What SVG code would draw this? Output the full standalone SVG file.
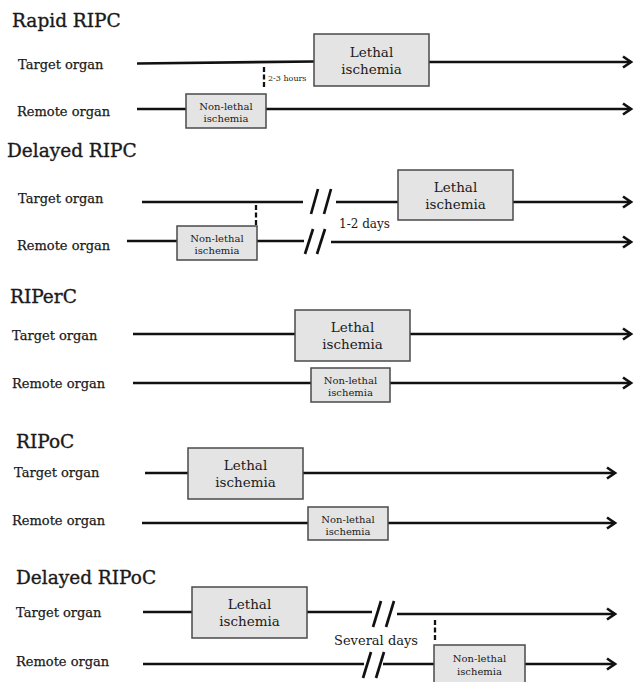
<svg xmlns="http://www.w3.org/2000/svg" width="635" height="682" viewBox="0 0 635 682">
<style>
text{font-family:"DejaVu Serif","Liberation Serif",serif;fill:#1a1a1a}
.title{font-size:18.5px;stroke:#1a1a1a;stroke-width:0.35}
.org{font-size:13px;stroke:#1a1a1a;stroke-width:0.25}
.lt{font-size:13.5px;text-anchor:middle}
.nl{font-size:10px;text-anchor:middle}
.sm{font-size:8px}
.mid{font-size:12px}
.box{fill:#e4e4e4;stroke:#4a4a4a;stroke-width:1.5}
.ln{stroke:#111;stroke-width:2.7;fill:none}
.arr{marker-end:url(#ah)}
.sl{stroke:#111;stroke-width:2.7;fill:none}
.dash{stroke:#111;stroke-width:2.3;stroke-dasharray:5,2.5;fill:none}
</style>
<defs>
<marker id="ah" markerUnits="userSpaceOnUse" markerWidth="14" markerHeight="16" refX="11" refY="8" orient="auto">
<path d="M3,2.5 L11,8 L3,13.5" fill="none" stroke="#111" stroke-width="2.7"/>
</marker>
</defs>
<rect width="635" height="682" fill="#fff"/>

<!-- Titles and row labels -->
<text class="title" x="12" y="27">Rapid RIPC</text>
<text class="org" x="18" y="69">Target organ</text>
<text class="org" x="17" y="116">Remote organ</text>

<text class="title" x="7" y="157">Delayed RIPC</text>
<text class="org" x="18" y="203">Target organ</text>
<text class="org" x="17" y="250">Remote organ</text>

<text class="title" x="10" y="303">RIPerC</text>
<text class="org" x="12" y="340">Target organ</text>
<text class="org" x="12" y="388">Remote organ</text>

<text class="title" x="16" y="448">RIPoC</text>
<text class="org" x="14" y="477">Target organ</text>
<text class="org" x="12" y="525">Remote organ</text>

<text class="title" x="16" y="584">Delayed RIPoC</text>
<text class="org" x="16" y="617">Target organ</text>
<text class="org" x="16" y="666">Remote organ</text>

<!-- Connectors -->
<g id="connectors">
  <!-- Rapid RIPC -->
  <line class="ln" x1="137" y1="63.5" x2="314" y2="61.5"/>
  <line class="ln arr" x1="429" y1="62" x2="631" y2="62"/>
  <line class="ln arr" x1="137" y1="109" x2="631" y2="109"/>
  <line class="dash" x1="264" y1="67" x2="264" y2="88"/>
  <!-- Delayed RIPC -->
  <line class="ln" x1="142" y1="202" x2="303" y2="202"/>
  <line class="sl" x1="318" y1="189" x2="311" y2="214"/>
  <line class="sl" x1="331" y1="189" x2="324" y2="214"/>
  <line class="ln" x1="336" y1="202" x2="398" y2="202"/>
  <line class="ln arr" x1="513" y1="202" x2="631" y2="202"/>
  <line class="dash" x1="256" y1="205" x2="256" y2="226"/>
  <line class="ln" x1="127" y1="241" x2="177" y2="241"/>
  <line class="ln" x1="257" y1="241" x2="304" y2="241"/>
  <line class="sl" x1="313" y1="229" x2="305" y2="254"/>
  <line class="sl" x1="325" y1="229" x2="317" y2="254"/>
  <line class="ln arr" x1="331" y1="242" x2="631" y2="242"/>
  <!-- RIPerC -->
  <line class="ln" x1="133" y1="334" x2="295" y2="334"/>
  <line class="ln arr" x1="410" y1="334" x2="631" y2="334"/>
  <line class="ln" x1="133" y1="383" x2="311" y2="383"/>
  <line class="ln arr" x1="390" y1="383" x2="631" y2="383"/>
  <!-- RIPoC -->
  <line class="ln" x1="145" y1="473" x2="188" y2="473"/>
  <line class="ln arr" x1="303" y1="473" x2="615" y2="473"/>
  <line class="ln" x1="142" y1="523" x2="308" y2="523"/>
  <line class="ln arr" x1="388" y1="523" x2="615" y2="523"/>
  <!-- Delayed RIPoC -->
  <line class="ln" x1="143" y1="612" x2="192" y2="612"/>
  <line class="ln" x1="307" y1="612" x2="372" y2="612"/>
  <line class="sl" x1="381" y1="601" x2="373" y2="627"/>
  <line class="sl" x1="394" y1="601" x2="386" y2="627"/>
  <line class="ln arr" x1="397" y1="614" x2="615" y2="614"/>
  <line class="dash" x1="435" y1="620" x2="435" y2="642"/>
  <line class="ln" x1="143" y1="664" x2="364" y2="664"/>
  <line class="sl" x1="371" y1="652" x2="363" y2="678"/>
  <line class="sl" x1="384" y1="652" x2="376" y2="678"/>
  <line class="ln" x1="383" y1="664" x2="434" y2="664"/>
  <line class="ln arr" x1="525" y1="664" x2="615" y2="664"/>
</g>

<!-- Nodes -->
<g id="rapid-lethal"><rect class="box" x="314" y="34" width="115" height="52"/><text class="lt" x="371.5" y="57">Lethal</text><text class="lt" x="371.5" y="74">ischemia</text></g>
<g id="rapid-nonlethal"><rect class="box" x="186" y="94" width="80" height="34"/><text class="nl" x="226" y="110">Non-lethal</text><text class="nl" x="226" y="122">ischemia</text></g>
<text class="sm" x="268" y="81">2-3 hours</text>

<g id="delayed-lethal"><rect class="box" x="398" y="170" width="115" height="50"/><text class="lt" x="455.5" y="192">Lethal</text><text class="lt" x="455.5" y="209">ischemia</text></g>
<g id="delayed-nonlethal"><rect class="box" x="177" y="226" width="80" height="34"/><text class="nl" x="217" y="242">Non-lethal</text><text class="nl" x="217" y="254">ischemia</text></g>
<text class="mid" x="339" y="228">1-2 days</text>

<g id="riperc-lethal"><rect class="box" x="295" y="310" width="115" height="51"/><text class="lt" x="352.5" y="332">Lethal</text><text class="lt" x="352.5" y="349">ischemia</text></g>
<g id="riperc-nonlethal"><rect class="box" x="311" y="368" width="79" height="34"/><text class="nl" x="350.5" y="384">Non-lethal</text><text class="nl" x="350.5" y="396">ischemia</text></g>

<g id="ripoc-lethal"><rect class="box" x="188" y="448" width="115" height="51"/><text class="lt" x="245.5" y="470">Lethal</text><text class="lt" x="245.5" y="487">ischemia</text></g>
<g id="ripoc-nonlethal"><rect class="box" x="308" y="507" width="80" height="33"/><text class="nl" x="348" y="523">Non-lethal</text><text class="nl" x="348" y="535">ischemia</text></g>

<g id="dripoc-lethal"><rect class="box" x="192" y="587" width="115" height="51"/><text class="lt" x="249.5" y="609">Lethal</text><text class="lt" x="249.5" y="626">ischemia</text></g>
<g id="dripoc-nonlethal"><rect class="box" x="434" y="645" width="91" height="45"/><text class="nl" x="479.5" y="662">Non-lethal</text><text class="nl" x="479.5" y="675">ischemia</text></g>
<text class="mid" x="334" y="645" style="font-size:13px">Several days</text>
</svg>
